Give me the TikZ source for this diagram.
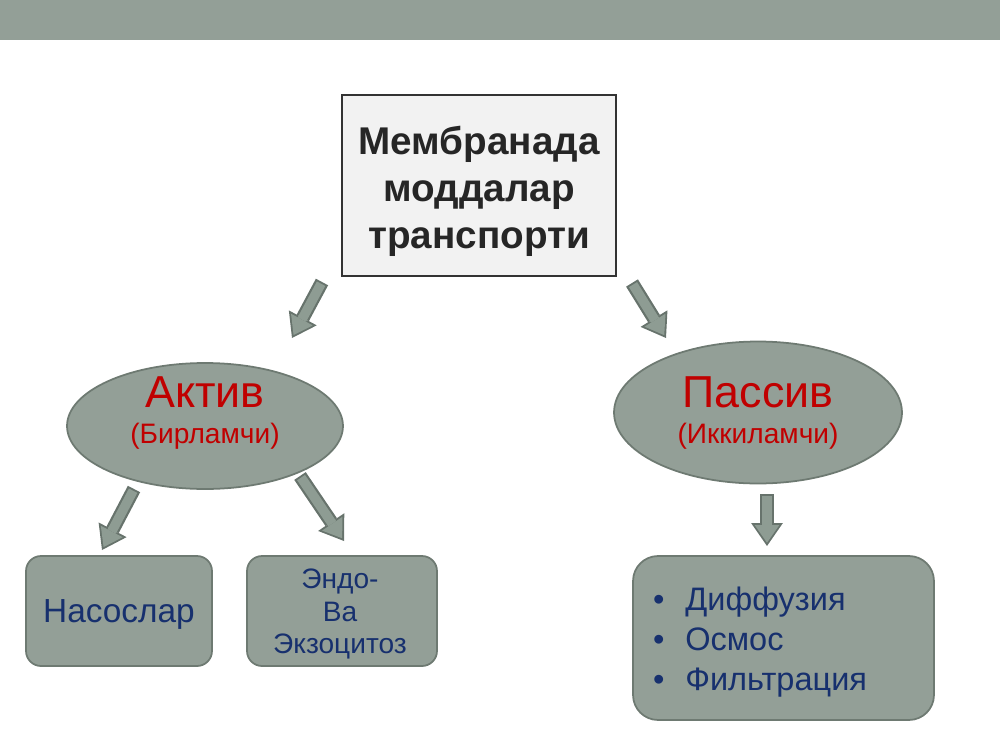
\documentclass[tikz,border=0pt]{standalone}
\usepackage{fontspec}
\setmainfont{Liberation Sans}
\usetikzlibrary{shapes.geometric,arrows.meta}
\definecolor{sage}{HTML}{939F97}
\definecolor{sagedark}{HTML}{6E7A72}
\definecolor{arrowfill}{HTML}{8E9C93}
\definecolor{arrowline}{HTML}{67736C}
\definecolor{navy}{HTML}{17306E}
\definecolor{redtxt}{HTML}{C00000}
\definecolor{boxfill}{HTML}{F2F2F2}

\begin{document}
\begin{tikzpicture}[x=0.02cm,y=-0.02cm,
        topbox/.style={draw=black!80,line width=1.2pt,fill=boxfill,minimum width=5.48cm,minimum height=3.62cm},
        oval/.style={ellipse,draw=sagedark,line width=1pt,fill=sage,inner sep=0pt},
        leaf/.style={draw=sagedark,line width=1pt,fill=sage,rounded corners=0.3cm,inner sep=0pt,text=navy},
        barrowout/.style={draw=arrowline,line width=7.9pt,-{Triangle[width=18pt,length=13pt,line width=0pt]}},
        barrowin/.style={draw=arrowfill,line width=5.4pt,shorten <=1.1pt,shorten >=1.9pt,-{Triangle[width=14pt,length=10pt,line width=0pt]}}]
    \useasboundingbox (0,0) rectangle (1000,750);
    \fill[sage] (0,0) rectangle (1000,40);

    % main box
    \node[topbox] (root) at (479,185.5) {};
    \node[align=center,font=\fontsize{22}{26.7}\selectfont\bfseries,text=black!85] (rootT) at (479,191)
        {Мембранада\\моддалар\\транспорти};

    % two kinds of transport
    \node[oval,minimum width=5.52cm,minimum height=2.52cm] (act) at (205,426) {};
    \node[align=center,text=redtxt] (actT) at (205,413)
        {{\fontsize{25.5}{28}\selectfont Актив}\\[9pt]{\fontsize{16}{18}\selectfont (Бирламчи)}};
    \node[oval,minimum width=5.76cm,minimum height=2.84cm] (pas) at (758,412.5) {};
    \node[align=center,text=redtxt] (pasT) at (758,413)
        {{\fontsize{25.5}{28}\selectfont Пассив}\\[9pt]{\fontsize{16}{18}\selectfont (Иккиламчи)}};

    % leaves
    \node[leaf,minimum width=3.72cm,minimum height=2.2cm] (pump) at (119,611) {};
    \node[text=navy,font=\fontsize{19}{22}\selectfont] (pumpT) at (119,614) {Насослар};
    \node[leaf,minimum width=3.8cm,minimum height=2.2cm] (endo) at (342,611) {};
    \node[text=navy,align=center,font=\fontsize{16}{18.7}\selectfont] (endoT) at (340,614) {Эндо-\\Ва\\Экзоцитоз};
    \node[leaf,minimum width=6.02cm,minimum height=3.28cm,rounded corners=0.5cm] (list) at (783.5,638) {};
    \node[text=navy,align=left,font=\fontsize{18.5}{22.7}\selectfont] (listT) at (760,642)
        {\textbullet\hspace{0.42cm}Диффузия\\\textbullet\hspace{0.42cm}Осмос\\\textbullet\hspace{0.42cm}Фильтрация};

    % block arrows
    \coordinate (a1s) at (322,282); \coordinate (a1e) at (292,338);
    \coordinate (a2s) at (632,283); \coordinate (a2e) at (666,338);
    \coordinate (a3s) at (134,489); \coordinate (a3e) at (102,550);
    \coordinate (a4s) at (300,476); \coordinate (a4e) at (344,541);
    \coordinate (a5s) at (767,494); \coordinate (a5e) at (767,546);
    \foreach \s/\e in {a1s/a1e,a2s/a2e,a3s/a3e,a4s/a4e,a5s/a5e} {
        \draw[barrowout] (\s) -- (\e);
        \draw[barrowin] (\s) -- (\e);
    }
\end{tikzpicture}
\end{document}
